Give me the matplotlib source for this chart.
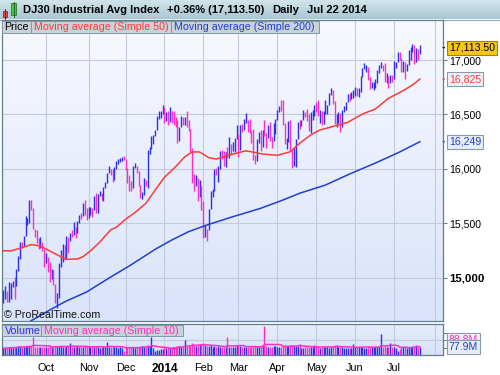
import numpy as np
import pandas as pd
import matplotlib
matplotlib.use('Agg')
import matplotlib.pyplot as plt
from matplotlib.patches import Rectangle
from matplotlib.colors import LinearSegmentedColormap

plt.rcParams['font.family'] = ['Liberation Sans', 'DejaVu Sans']

# ---------------- data ----------------
holidays = ['2013-09-02', '2013-11-28', '2013-12-25', '2014-01-01', '2014-01-20',
            '2014-02-17', '2014-04-18', '2014-05-26', '2014-07-04']
dates = pd.bdate_range('2013-08-28', '2014-07-22')
dates = dates[~dates.isin(pd.to_datetime(holidays))]

prev_close0 = 14776
close = [14824, 14840, 14810,
         14834, 14930, 14938, 14923, 15064, 15191, 15326, 15300, 15376, 15494, 15530, 15676, 15636, 15451, 15401, 15334, 15273, 15328, 15258, 15130,
         15191, 15133, 14996, 15073, 14936, 14776, 14802, 15126, 15237, 15301, 15168, 15373, 15371, 15399, 15392, 15467, 15413, 15509, 15570, 15568, 15680, 15618, 15546,
         15615, 15639, 15618, 15746, 15593, 15761, 15783, 15751, 15822, 15876, 15962, 15976, 15968, 15900, 16010, 16065, 16073, 16073, 16098, 16086,
         16008, 15915, 15889, 15821, 16020, 16025, 15973, 15844, 15740, 15755, 15885, 15875, 16168, 16179, 16221, 16294, 16358, 16479, 16479, 16505, 16577,
         16441, 16470, 16425, 16530, 16462, 16444, 16437, 16257, 16374, 16481, 16418, 16459, 16414, 16373, 16198, 15879, 15838, 15929, 15739, 15848, 15699,
         15373, 15445, 15440, 15628, 15795, 15801, 15994, 15964, 16027, 16154, 16130, 16041, 16133, 16104, 16208, 16179, 16198, 16272, 16322,
         16168, 16396, 16360, 16422, 16453, 16419, 16351, 16340, 16109, 16066, 16247, 16337, 16223, 16332, 16303, 16276, 16368, 16268, 16264, 16323, 16458,
         16533, 16573, 16572, 16413, 16246, 16256, 16438, 16171, 16027, 16174, 16263, 16425, 16409, 16449, 16514, 16502, 16501, 16362, 16449, 16535, 16581,
         16558, 16513, 16531, 16402, 16518, 16551, 16583, 16696, 16715, 16614, 16447, 16491, 16511, 16375, 16533, 16543, 16606, 16676, 16633, 16699, 16717,
         16743, 16722, 16738, 16837, 16924, 16944, 16946, 16844, 16735, 16776, 16782, 16808, 16906, 16921, 16947, 16937, 16818, 16868, 16846, 16851, 16827,
         16956, 16976, 17068, 17025, 16906, 16985, 16915, 16944, 17055, 17061, 17138, 16977, 17100, 17052, 17113.5]

high = [14890, 14920, 14880,
        14960, 14950, 14970, 15010, 15080, 15200, 15330, 15330, 15380, 15570, 15550, 15710, 15710, 15640, 15450, 15440, 15360, 15370, 15330, 15260,
        15230, 15190, 15140, 15080, 15070, 14940, 14860, 15130, 15250, 15310, 15300, 15380, 15375, 15410, 15440, 15510, 15465, 15520, 15580, 15590, 15690, 15710, 15640,
        15650, 15650, 15640, 15750, 15780, 15770, 15800, 15780, 15830, 15880, 15965, 16030, 16000, 16000, 16015, 16070, 16090, 16100, 16110, 16120,
        16090, 16010, 15940, 15890, 16030, 16050, 16030, 15980, 15850, 15790, 15920, 15900, 16170, 16200, 16300, 16310, 16360, 16490, 16530, 16530, 16590,
        16570, 16520, 16530, 16570, 16530, 16530, 16480, 16450, 16380, 16490, 16480, 16480, 16530, 16450, 16370, 16190, 15950, 15940, 15920, 15900, 15840,
        15700, 15480, 15450, 15630, 15800, 15810, 16000, 16010, 16030, 16160, 16170, 16160, 16150, 16200, 16290, 16230, 16250, 16280, 16400,
        16320, 16400, 16410, 16460, 16510, 16450, 16460, 16350, 16370, 16130, 16270, 16340, 16360, 16360, 16450, 16330, 16400, 16430, 16290, 16420, 16460,
        16540, 16580, 16630, 16630, 16420, 16280, 16440, 16450, 16170, 16200, 16270, 16430, 16450, 16450, 16540, 16520, 16550, 16500, 16520, 16540, 16590,
        16610, 16630, 16540, 16530, 16530, 16630, 16590, 16700, 16740, 16720, 16620, 16500, 16520, 16510, 16540, 16580, 16610, 16690, 16700, 16710, 16720,
        16750, 16740, 16740, 16850, 16930, 16970, 16950, 16940, 16840, 16800, 16800, 16830, 16910, 16950, 16980, 16950, 16970, 16880, 16850, 16860, 16860,
        16990, 16980, 17075, 17070, 17020, 16990, 16980, 16960, 17090, 17120, 17150, 17140, 17110, 17100, 17140]

low = [14765, 14800, 14775,
       14775, 14800, 14910, 14800, 14925, 15065, 15170, 15270, 15290, 15380, 15480, 15500, 15620, 15450, 15370, 15320, 15260, 15270, 15240, 15100,
       15130, 15050, 14960, 14990, 14930, 14770, 14720, 14810, 15100, 15140, 15160, 15170, 15230, 15340, 15370, 15390, 15360, 15410, 15500, 15540, 15565, 15580, 15530,
       15550, 15580, 15560, 15620, 15590, 15590, 15750, 15710, 15700, 15820, 15870, 15960, 15940, 15880, 15900, 16000, 16040, 16060, 16070, 16080,
       15990, 15870, 15800, 15800, 15825, 16010, 15960, 15840, 15730, 15720, 15760, 15840, 15820, 16140, 16180, 16230, 16300, 16360, 16460, 16470, 16500,
       16420, 16440, 16400, 16430, 16420, 16400, 16380, 16240, 16260, 16380, 16400, 16400, 16380, 16350, 16150, 15870, 15800, 15840, 15700, 15740, 15620,
       15360, 15370, 15340, 15440, 15630, 15740, 15800, 15940, 15880, 16000, 16090, 16030, 16020, 16100, 16100, 16130, 16160, 16150, 16270,
       16110, 16170, 16340, 16360, 16420, 16340, 16330, 16240, 16080, 16040, 16070, 16240, 16160, 16200, 16300, 16190, 16280, 16260, 16190, 16260, 16320,
       16450, 16520, 16530, 16400, 16230, 16180, 16250, 16160, 16010, 16030, 16020, 16270, 16370, 16390, 16450, 16480, 16440, 16350, 16330, 16450, 16490,
       16520, 16490, 16420, 16400, 16410, 16500, 16500, 16590, 16680, 16600, 16410, 16380, 16420, 16340, 16380, 16520, 16540, 16610, 16620, 16640, 16650,
       16670, 16670, 16660, 16710, 16840, 16920, 16890, 16820, 16730, 16740, 16720, 16740, 16790, 16880, 16930, 16900, 16800, 16790, 16740, 16790, 16800,
       16830, 16930, 16980, 17000, 16890, 16890, 16830, 16900, 16950, 17000, 17070, 16960, 16980, 17000, 17060]

volume_m = [70, 68, 72,
            78, 82, 75, 80, 85, 92, 88, 80, 84, 90, 88, 95, 86, 185, 82, 85, 78, 80, 76, 84,
            82, 85, 88, 80, 84, 92, 95, 86, 90, 76, 80, 92, 88, 125, 80, 84, 82, 86, 80, 82, 78, 90, 88,
            80, 78, 82, 85, 92, 84, 72, 78, 80, 82, 130, 84, 80, 82, 78, 76, 74, 76, 70, 40,
            78, 84, 82, 80, 78, 72, 76, 85, 82, 86, 84, 80, 96, 88, 185, 70, 38, 50, 55, 60, 62,
            78, 72, 80, 76, 82, 80, 84, 86, 88, 84, 80, 150, 92, 86, 95, 120, 100, 90, 98, 96, 110,
            118, 100, 92, 90, 96, 80, 88, 78, 86, 84, 82, 80, 84, 180, 82, 78, 80, 84, 100,
            95, 88, 78, 80, 84, 76, 80, 82, 92, 90, 86, 84, 90, 86, 290, 88, 80, 82, 84, 90, 86,
            84, 78, 82, 96, 98, 90, 86, 100, 104, 92, 94, 86, 115, 68, 72, 76, 78, 80, 84, 82, 96,
            86, 80, 72, 82, 84, 80, 86, 74, 80, 88, 96, 105, 76, 82, 80, 72, 68, 70, 72, 74, 108,
            78, 80, 76, 84, 82, 74, 72, 80, 84, 78, 80, 78, 84, 88, 210, 78, 86, 80, 76, 125, 80,
            84, 72, 45, 64, 80, 76, 82, 74, 80, 84, 90, 86, 105, 80, 77.9]

# moving averages (trading-day index : value)
ma50_idx = [-2, 2, 7, 13, 18, 23, 29, 32, 38, 41, 45, 50, 53, 56, 59, 64, 69, 75, 80, 85, 91, 96, 100,
            104, 109, 113, 120, 129, 138, 146, 153, 158, 164, 169, 179, 184, 192, 199, 206, 213, 219, 223]
ma50_val = [15247, 15245, 15270, 15303, 15291, 15245, 15192, 15168, 15171, 15192, 15245, 15325, 15383,
            15440, 15462, 15536, 15597, 15683, 15805, 15922, 16019, 16111, 16155, 16155, 16102, 16090,
            16127, 16166, 16136, 16124, 16157, 16234, 16311, 16357, 16403, 16427, 16504, 16550, 16648,
            16709, 16770, 16825]
ma200_idx = [10, 23, 32, 43, 56, 66, 80, 89, 98, 108, 122, 137, 149, 158, 172, 185, 199, 212, 223]
ma200_val = [14574, 14702, 14785, 14868, 15006, 15107, 15260, 15346, 15422, 15484, 15560, 15637,
             15713, 15775, 15851, 15952, 16053, 16154, 16249]

month_labels = ['Oct', 'Nov', 'Dec', '2014', 'Feb', 'Mar', 'Apr', 'May', 'Jun', 'Jul']
price_ticks = [15000, 15500, 16000, 16500, 17000]

# ---------------- derived positions ----------------
n = len(close)
idx = np.arange(n) - 2          # Aug 28 2013 = -2, Aug 30 = 0
dates = dates[:n]
prev = np.array([prev_close0] + close[:-1])
up = np.array(close) >= prev
BLUE = '#2f2ff2'
PINK = '#ff2fc4'
cols = np.where(up, BLUE, PINK)

ser = pd.Series(idx, index=dates)
mstarts = ser.groupby(ser.index.to_period('M')).first()
month_pos = [int(v) for k, v in mstarts.items() if k >= pd.Period('2013-10', 'M')]
grid_pos = month_pos + [231]   # Aug 1 2014 (outside data, grid only)

XL = (-2.77, 235.5)
YL = (14601, 17368)
W, H = 500, 375
BORDER = '#5f7f8c'
GRID = '#c3cadc'


def rect(l, t, r, b):
    return [l / W, 1 - b / H, (r - l) / W, (b - t) / H]


fig = plt.figure(figsize=(5, 3.75), dpi=100)
fig.patch.set_facecolor('white')

# background / frame axes in pixel coordinates
bg = fig.add_axes([0, 0, 1, 1], zorder=0)
bg.set_xlim(0, W)
bg.set_ylim(H, 0)
bg.axis('off')
tb_cmap = LinearSegmentedColormap.from_list('tb', ['#d3e6ec', '#a9c7d2'])
bg.imshow(np.linspace(0, 1, 64)[:, None], cmap=tb_cmap, extent=(0, W, 19.5, 0),
          aspect='auto', origin='upper')
bg.plot([0, W], [19.5, 19.5], color='#8fa9b4', lw=0.8)
bg.set_xlim(0, W)
bg.set_ylim(H, 0)

# ---------------- main price panel ----------------
ax = fig.add_axes(rect(2, 20, 443, 321), zorder=1)
main_cmap = LinearSegmentedColormap.from_list('mg', ['#f8f9fe', '#d9e3fa'])
ax.imshow(np.linspace(0, 1, 256)[:, None], cmap=main_cmap,
          extent=(XL[0], XL[1], YL[0], YL[1]), aspect='auto', origin='upper', zorder=0)
ax.set_xlim(*XL)
ax.set_ylim(*YL)
ax.set_xticks(grid_pos)
ax.set_yticks(price_ticks)
ax.grid(True, color=GRID, lw=0.8, zorder=1)
ax.vlines(idx, low, high, colors=cols, lw=1.0, zorder=3)
ax.plot(ma50_idx, ma50_val, color='#ff3a3a', lw=1.1, zorder=4)
ax.plot(ma200_idx, ma200_val, color='#1f3fd2', lw=1.1, zorder=4)
ax.yaxis.tick_right()
ax.set_yticklabels([f'{v:,}' for v in price_ticks])
ax.tick_params(axis='y', direction='out', length=3, width=0.7, color=BORDER,
               pad=1.5, labelsize=7.6, labelcolor='black')
ax.tick_params(axis='x', bottom=False, labelbottom=False)
for lab in ax.get_yticklabels():
    if lab.get_text() == '15,000':
        lab.set_fontweight('bold')
        lab.set_fontsize(8.2)
for s in ax.spines.values():
    s.set_color(BORDER)
    s.set_linewidth(0.9)

# value flags on the right axis
def flag(axis, value, text, tc, fc, ec, fs=7.6, z=10):
    axis.annotate(text, xy=(1, value), xycoords=('axes fraction', 'data'),
                  xytext=(4.2, 0), textcoords='offset points', ha='left', va='center',
                  fontsize=fs, color=tc, annotation_clip=False, zorder=z,
                  bbox=dict(boxstyle='square,pad=0.18', fc=fc, ec=ec, lw=0.8))

flag(ax, ma200_val[-1], f'{ma200_val[-1]:,}', '#1f3fd2', '#e8eef8', '#8a9aa8')
flag(ax, ma50_val[-1], f'{ma50_val[-1]:,}', '#ff3a3a', '#eef2f8', '#8a9aa8')
flag(ax, close[-1], f'{close[-1]:,.2f}', 'black', '#f7c517', '#9a8030')
for v, c in [(ma50_val[-1], '#ff3a3a'), (ma200_val[-1], '#1f3fd2'), (close[-1], 'black')]:
    ax.annotate('', xy=(1, v), xycoords=('axes fraction', 'data'),
                xytext=(3, 0), textcoords='offset points', annotation_clip=False,
                arrowprops=dict(arrowstyle='-', color=c, lw=0.9))

# ---------------- volume panel ----------------
axv = fig.add_axes(rect(2, 324.3, 443, 355), zorder=1)
vol_cmap = LinearSegmentedColormap.from_list('vg', ['#e6edfc', '#d8e2fa'])
axv.imshow(np.linspace(0, 1, 64)[:, None], cmap=vol_cmap,
           extent=(XL[0], XL[1], 0, 310), aspect='auto', origin='upper', zorder=0)
axv.set_xlim(*XL)
axv.set_ylim(0, 310)
axv.vlines(idx, 0, volume_m, colors=cols, lw=1.0, zorder=3)
vma = pd.Series(volume_m).rolling(10, min_periods=1).mean()
axv.plot(idx, vma, color='#ff2fc4', lw=1.1, zorder=4)
axv.set_yticks([75, 150, 225])
axv.yaxis.tick_right()
axv.tick_params(axis='y', direction='out', length=3, width=0.7, color=BORDER, labelright=False)
axv.set_xticks(grid_pos)
axv.set_xticklabels(month_labels + [''])
axv.tick_params(axis='x', length=0, pad=5.5, labelsize=7.8, labelcolor='black')
for lab in axv.get_xticklabels():
    if lab.get_text() == '2014':
        lab.set_fontweight('bold')
        lab.set_fontsize(8.6)
axv.grid(True, axis='x', color=GRID, lw=0.8, zorder=1)
axv.axhline(150, color=GRID, lw=0.8, zorder=1)
for s in axv.spines.values():
    s.set_color(BORDER)
    s.set_linewidth(0.9)

# MA10 flag (pushed up, mostly hidden behind the volume flag)
axv.annotate('88.8M', xy=(1, 0), xycoords='axes fraction', xytext=(4.2, 11.0),
             textcoords='offset points', ha='left', va='center', fontsize=7.6,
             color='#ff2fc4', annotation_clip=False, zorder=6,
             bbox=dict(boxstyle='square,pad=0.18', fc='#eef2f8', ec='#8a9aa8', lw=0.8))
flag(axv, volume_m[-1], f'{volume_m[-1]:.1f}M', '#1f3fd2', '#e8eef8', '#8a9aa8', z=12)

# ---------------- overlay texts (pixel coords) ----------------
ov = fig.add_axes([0, 0, 1, 1], zorder=8)
ov.set_xlim(0, W)
ov.set_ylim(H, 0)
ov.axis('off')
ov.patch.set_alpha(0)

# candlestick icon
ov.plot([5.3, 5.3], [9.3, 18.7], color='#7a2020', lw=0.7)
ov.add_patch(Rectangle((3.3, 11), 4, 5.7, fc='#e8474c', ec='#8a2a2a', lw=0.6))
ov.plot([13.5, 13.5], [1.7, 16.7], color='#206020', lw=0.7)
ov.add_patch(Rectangle((11.3, 3.3), 4.4, 11.5, fc='#40cc40', ec='#2a7a2a', lw=0.6))

ov.text(23, 10, 'DJ30 Industrial Avg Index', fontsize=8, fontweight='bold', va='center', ha='left')
ov.text(167, 10, '+0.36% (17,113.50)', fontsize=8, fontweight='bold', va='center', ha='left')
ov.text(272.5, 10, 'Daily', fontsize=8, fontweight='bold', va='center', ha='left')
ov.text(307, 10, 'Jul 22 2014', fontsize=8, fontweight='bold', va='center', ha='left')

LEG_FC = '#c8d2d8'
LEG_EC = '#7f9aa6'
for (l, r, t, b, txt, c) in [(2, 31, 20.7, 32.7, 'Price', 'black'),
                             (31, 171, 20.7, 32.7, 'Moving average (Simple 50)', '#ff3a3a'),
                             (171, 319, 20.7, 32.7, 'Moving average (Simple 200)', '#1f3fd2'),
                             (2, 41, 324.5, 336, 'Volume', '#2f2ff2'),
                             (41, 183, 324.5, 336, 'Moving average (Simple 10)', '#ff2fc4')]:
    ov.add_patch(Rectangle((l, t), r - l, b - t, fc=LEG_FC, ec=LEG_EC, lw=0.7))
    ov.text(l + 2.5, (t + b) / 2 + 0.3, txt, fontsize=7.7, color=c, va='center', ha='left')

ov.text(3.5, 314.5, '\u00a9 ProRealTime.com', fontsize=7.7, color='#111111', va='center', ha='left')

fig.savefig('out.png', dpi=100)
